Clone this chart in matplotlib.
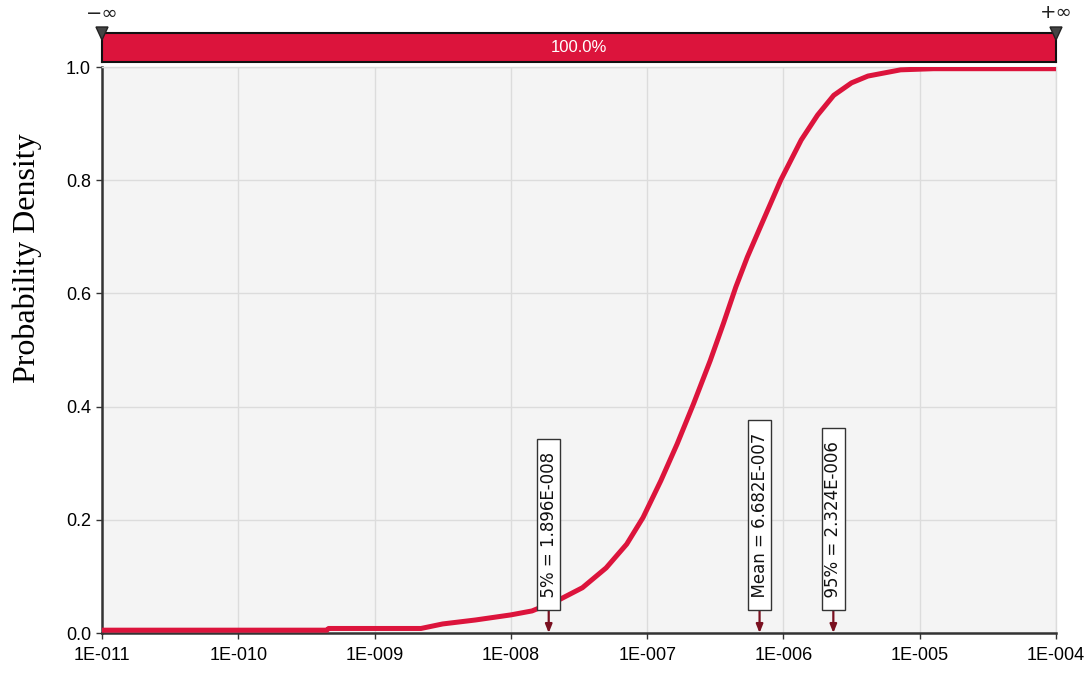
import numpy as np
import matplotlib.pyplot as plt
from matplotlib.ticker import FixedLocator, NullLocator

# Cumulative curve
x_vals = [1e-11, 4.47e-10, 4.6e-10, 2.19e-9, 3.16e-9, 5.5e-9, 1.0e-8, 1.43e-8,
          2.19e-8, 3.35e-8, 5.0e-8, 7.08e-8, 9.33e-8, 1.26e-7, 1.66e-7, 2.19e-7,
          2.9e-7, 3.63e-7, 4.47e-7, 5.43e-7, 6.76e-7, 9.55e-7, 1.35e-6, 1.78e-6,
          2.34e-6, 3.16e-6, 4.17e-6, 7.24e-6, 1.26e-5, 1e-4]
cdf_vals = [0.005, 0.005, 0.008, 0.008, 0.016, 0.023, 0.032, 0.039,
            0.057, 0.080, 0.115, 0.157, 0.204, 0.269, 0.334, 0.405,
            0.481, 0.547, 0.611, 0.664, 0.717, 0.800, 0.871, 0.915,
            0.950, 0.972, 0.984, 0.995, 0.997, 0.997]

# markers
marker_x = [1.896e-8, 6.682e-7, 2.324e-6]
marker_labels = ["5% = 1.896E-008", "Mean = 6.682E-007", "95% = 2.324E-006"]

x_ticks = [1e-11, 1e-10, 1e-9, 1e-8, 1e-7, 1e-6, 1e-5, 1e-4]
x_ticklabels = ["1E-011", "1E-010", "1E-009", "1E-008", "1E-007", "1E-006", "1E-005", "1E-004"]
y_ticks = [0.0, 0.2, 0.4, 0.6, 0.8, 1.0]
y_ticklabels = ["0.0", "0.2", "0.4", "0.6", "0.8", "1.0"]

red = "#dc143c"
tick_font = "Liberation Sans"

W, H = 1090, 674
fig = plt.figure(figsize=(W / 100, H / 100), dpi=100)

def frac(x0, y0, x1, y1):
    return [x0 / W, 1 - y1 / H, (x1 - x0) / W, (y1 - y0) / H]

ax = fig.add_axes(frac(102, 67, 1056, 633))
ax.set_facecolor("#f4f4f4")
ax.set_xscale("log")
ax.set_xlim(1e-11, 1e-4)
ax.set_ylim(0, 1.0)

ax.plot(x_vals, cdf_vals, color=red, lw=3.6, solid_capstyle="butt", zorder=3)

ax.xaxis.set_major_locator(FixedLocator(x_ticks))
ax.xaxis.set_minor_locator(NullLocator())
ax.set_xticklabels(x_ticklabels, family=tick_font, fontsize=13)
ax.set_yticks(y_ticks)
ax.set_yticklabels(y_ticklabels, family=tick_font, fontsize=13)
ax.tick_params(axis="both", length=4, width=1, color="#333333", pad=4)
ax.tick_params(axis="x", pad=6)
ax.grid(True, color="#dcdcdc", lw=1)
ax.set_axisbelow(True)

for s in ["top", "right"]:
    ax.spines[s].set_color("#dcdcdc")
    ax.spines[s].set_linewidth(1)
for s in ["left", "bottom"]:
    ax.spines[s].set_color("#333333")
    ax.spines[s].set_linewidth(1.8)

ax.set_ylabel("Probability Density", family="Liberation Serif", fontsize=23)
ax.yaxis.set_label_coords(-0.063, 0.663)

# percentile / mean markers
for mx, lab in zip(marker_x, marker_labels):
    ax.annotate("", xy=(mx, 0.0), xytext=(mx, 0.041),
                arrowprops=dict(arrowstyle="-|>,head_width=0.2,head_length=0.5",
                                color="#7a1020", lw=1.6, shrinkA=0, shrinkB=0),
                zorder=5)
    ax.text(mx, 0.044, "  " + lab + "  ", rotation=90, ha="center", va="bottom",
            fontsize=12, family="DejaVu Sans", color="#111111", zorder=6,
            bbox=dict(boxstyle="square,pad=0.14", fc="white", ec="#333333", lw=1))

# top probability bar
bar = fig.add_axes(frac(102, 33, 1056, 62))
bar.set_xlim(0, 1)
bar.set_ylim(0, 1)
bar.barh(0.5, 1.0, height=1.0, left=0, color=red, edgecolor="none")
bar.set_xticks([])
bar.set_yticks([])
for s in bar.spines.values():
    s.set_color("#111111")
    s.set_linewidth(1.5)
bar.text(0.5, 0.5, "100.0%", color="white", ha="center", va="center",
         fontsize=12, family=tick_font)

# infinity markers
for px, sym in [(102, "\u2212\u221e"), (1056, "+\u221e")]:
    fig.text(px / W, 1 - 13 / H, sym, ha="center", va="center", fontsize=14, color="#222222")
    fig.patches.append(plt.Polygon([[(px - 6) / W, 1 - 27 / H], [(px + 6) / W, 1 - 27 / H],
                                    [px / W, 1 - 40 / H]], closed=True,
                                   transform=fig.transFigure, fc="#444444", ec="#222222",
                                   zorder=10, figure=fig))

fig.savefig("out.png", dpi=100)
